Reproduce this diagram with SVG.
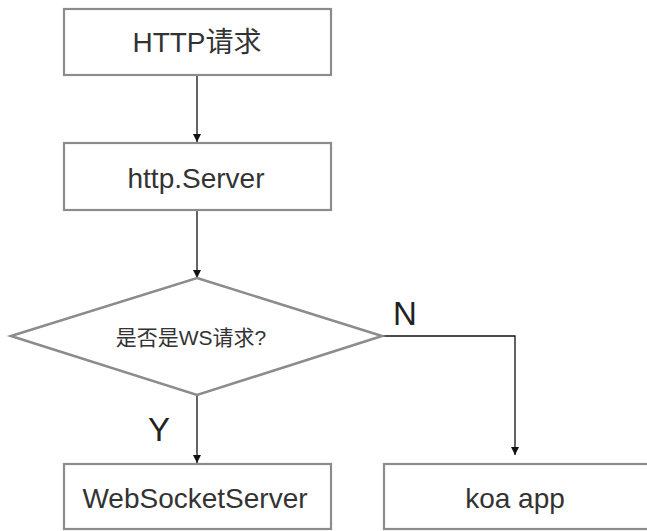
<svg xmlns="http://www.w3.org/2000/svg" width="647" height="531" viewBox="0 0 647 531">
  <style>
    .box { fill: #ffffff; stroke: #8c8c8c; stroke-width: 2.2; }
    .dia { fill: #ffffff; stroke: #8c8c8c; stroke-width: 2.6; stroke-linejoin: miter; }
    .lbl { font-family: "Liberation Sans", "Noto Sans CJK SC", sans-serif; fill: #333333; text-anchor: middle; }
    .big { font-size: 28px; }
    .yn { font-family: "Liberation Sans", sans-serif; fill: #222222; font-size: 33px; text-anchor: middle; }
    .edge { fill: none; stroke: #111111; stroke-width: 1.3; }
  </style>
  <defs>
    <marker id="arrow" viewBox="0 0 10 10" refX="10" refY="5" markerWidth="8" markerHeight="8" markerUnits="userSpaceOnUse" orient="auto">
      <path d="M0,0 L10,5 L0,10 Z" fill="#111111"/>
    </marker>
  </defs>
  <rect width="647" height="531" fill="#ffffff"/>

  <g id="connectors">
    <path class="edge" d="M197,75 L197,142" marker-end="url(#arrow)"/>
    <path class="edge" d="M197,210 L197,278" marker-end="url(#arrow)"/>
    <path class="edge" d="M197,395 L197,463" marker-end="url(#arrow)"/>
    <path class="edge" d="M382,336 L515,336 L515,455" marker-end="url(#arrow)"/>
  </g>

  <g id="http-request">
    <rect class="box" x="64" y="9" width="267" height="66"/>
    <text class="lbl big" x="197" y="52">HTTP请求</text>
  </g>

  <g id="http-server">
    <rect class="box" x="64" y="143" width="267" height="67"/>
    <text class="lbl big" x="196" y="188">http.Server</text>
  </g>

  <g id="is-ws">
    <polygon class="dia" points="197,278 382,336 197,395 11,336"/>
    <text class="lbl" x="191" y="345" font-size="21">是否是WS请求?</text>
  </g>

  <g id="websocket-server">
    <rect class="box" x="64" y="464" width="267" height="65"/>
    <text class="lbl big" x="195" y="508">WebSocketServer</text>
  </g>

  <g id="koa-app">
    <rect class="box" x="384" y="464" width="275" height="65"/>
    <text class="lbl big" x="515" y="508">koa app</text>
  </g>

  <text class="yn" x="405" y="325">N</text>
  <text class="yn" x="159" y="441">Y</text>
</svg>
